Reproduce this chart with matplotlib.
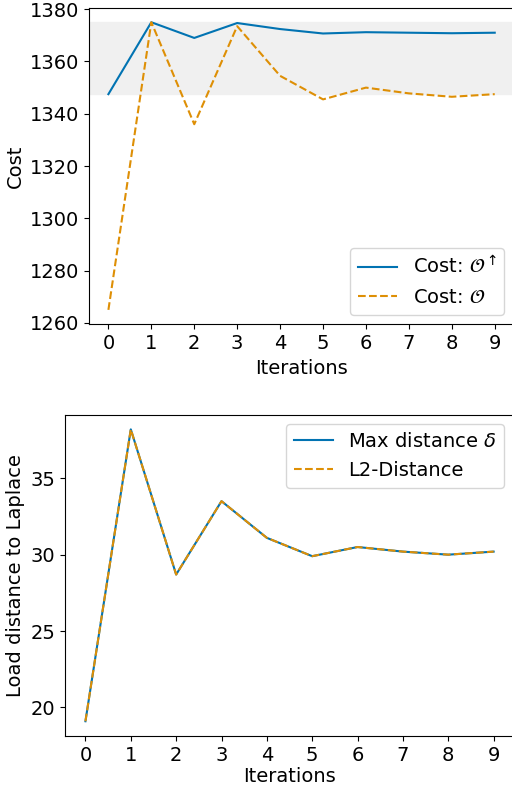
import matplotlib
matplotlib.use("Agg")
import matplotlib.pyplot as plt
import numpy as np

plt.rcParams['font.size'] = 14

iterations = np.arange(10)
cost_up = [1347.5, 1375.0, 1369.0, 1374.7, 1372.4, 1370.7, 1371.2, 1371.0, 1370.8, 1371.0]
cost = [1265.0, 1375.0, 1336.0, 1373.5, 1354.5, 1345.5, 1350.0, 1347.8, 1346.5, 1347.5]
max_dist = [19.1, 38.2, 28.7, 33.5, 31.1, 29.9, 30.5, 30.2, 30.0, 30.2]
l2_dist = [19.1, 38.2, 28.7, 33.5, 31.1, 29.9, 30.5, 30.2, 30.0, 30.2]

blue = '#0173b2'
orange = '#de8f05'

fig = plt.figure(figsize=(5.12, 7.87), dpi=100)

# top: cost per iteration
ax1 = fig.add_axes([0.174, 0.588, 0.83, 0.402])
ax1.axhspan(min(cost_up), max(cost_up), color='#f0f0f0', zorder=0)
ax1.plot(iterations, cost_up, color=blue, lw=1.5, label=r'Cost: $\mathcal{O}^\uparrow$')
ax1.plot(iterations, cost, color=orange, lw=1.5, ls='--', label=r'Cost: $\mathcal{O}$')
ax1.set_xticks(iterations)
ax1.set_xlabel('Iterations')
ax1.set_ylabel('Cost')
ax1.legend(loc='lower right')

# bottom: distance to laplace
ax2 = fig.add_axes([0.127, 0.065, 0.877, 0.408])
ax2.plot(iterations, max_dist, color=blue, lw=1.5, label=r'Max distance $\delta$')
ax2.plot(iterations, l2_dist, color=orange, lw=1.5, ls='--', label='L2-Distance')
ax2.set_xticks(iterations)
ax2.set_xlabel('Iterations', labelpad=2)
ax2.set_ylabel('Load distance to Laplace')
ax2.legend(loc='upper right')

plt.savefig('out.png', dpi=100)
